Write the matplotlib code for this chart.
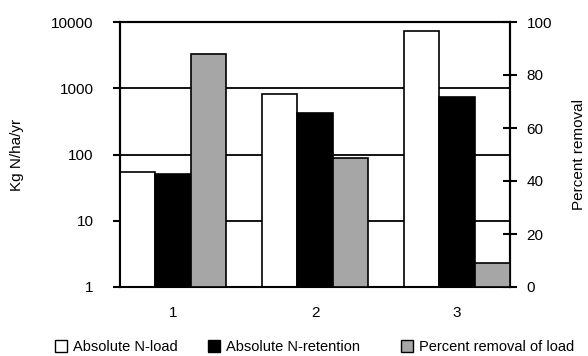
import matplotlib
matplotlib.use("Agg")
import matplotlib.pyplot as plt
from matplotlib.patches import Patch
import numpy as np

plt.rcParams['font.family'] = ['Liberation Sans', 'DejaVu Sans']

groups = [1, 2, 3]
group_labels = ["1", "2", "3"]
n_load = [54, 820, 7400]
n_retention = [50, 420, 750]
pct_removal = [88, 48.5, 9]
series_names = ["Absolute N-load", "Absolute N-retention", "Percent removal of load"]
series_colors = ["white", "black", "#a6a6a6"]
left_ticks = [1, 10, 100, 1000, 10000]
right_ticks = [0, 20, 40, 60, 80, 100]

fig = plt.figure(figsize=(5.88, 3.56), dpi=100)
ax = fig.add_axes([120/588, 1-287/356, 390/588, 265/356])
ax2 = ax.twinx()

w = 0.25
x = np.array(groups, dtype=float)
ax.bar(x - w, n_load, width=w, color=series_colors[0], edgecolor="black", linewidth=1.2, zorder=3)
ax.bar(x, n_retention, width=w, color=series_colors[1], edgecolor="black", linewidth=1.2, zorder=3)
ax2.bar(x + w, pct_removal, width=w, color=series_colors[2], edgecolor="black", linewidth=1.2, zorder=3)

ax.set_yscale("log")
ax.set_ylim(1, 10000)
ax.set_xlim(0.625, 3.375)
ax.set_yticks(left_ticks)
ax.set_yticklabels([str(t) for t in left_ticks])
ax.yaxis.set_minor_locator(matplotlib.ticker.NullLocator())
ax.set_xticks(x)
ax.set_xticklabels(group_labels)
ax.tick_params(axis="x", length=0, pad=14, labelsize=11)
ax.tick_params(axis="y", direction="out", length=5, width=1.5, labelsize=11, pad=14)
for t in left_ticks[1:-1]:
    ax.axhline(t, color="black", linewidth=1.3, zorder=1)

ax2.set_ylim(0, 100)
ax2.set_yticks(right_ticks)
ax2.tick_params(axis="y", direction="inout", length=10, width=1.5, labelsize=11, pad=7)

for a in (ax, ax2):
    for s in a.spines.values():
        s.set_linewidth(1.5)
ax.spines['bottom'].set_linewidth(1.3)

ax.set_ylabel("Kg N/ha/yr", fontsize=11)
ax2.set_ylabel("Percent removal", fontsize=11)
ax.yaxis.set_label_coords(-96/390, 0.5)
ax2.yaxis.set_label_coords(1 + 62/390, 0.5)

legend_x = [55/588, 208/588, 401/588]
for name, col, lx in zip(series_names, series_colors, legend_x):
    h = Patch(facecolor=col, edgecolor="black", linewidth=1.0)
    fig.legend(handles=[h], labels=[name], loc="center left",
               bbox_to_anchor=(lx, 1 - 347/356), frameon=False,
               fontsize=10.5, handlelength=0.85, handleheight=0.85,
               handletextpad=0.4, borderpad=0, borderaxespad=0)

fig.savefig("out.png", dpi=100)
